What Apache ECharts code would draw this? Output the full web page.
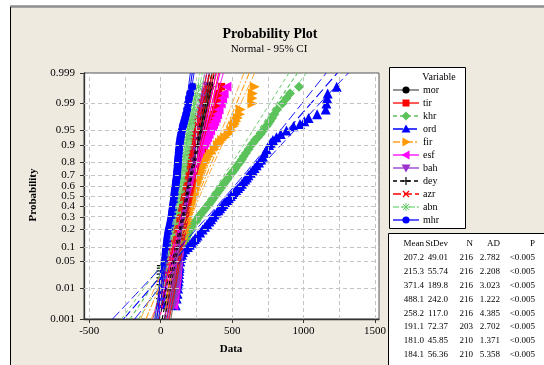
<!DOCTYPE html>
<html><head><meta charset="utf-8">
<script src="https://cdn.jsdelivr.net/npm/echarts@6/dist/echarts.min.js"></script>
<style>html,body{margin:0;padding:0;background:#fff}#c{width:544px;height:365px}</style>
</head><body><div id="c"></div>
<script>
// ---------------- DATA ----------------
const seriesNames = ['mor','tir','khr','ord','fir','esf','bah','dey','azr','abn','mhr'];
// plotting probabilities of the read points (shared by all series)
const probLevels = [0.003,0.005,0.007,0.01,0.013,0.016,0.02,0.025,0.03,0.035,0.04,0.05,0.06,0.07,0.08,0.09,0.1,0.11,0.12,0.13,0.14,0.15,0.16,0.18,0.2,0.22,0.24,0.26,0.28,0.3,0.32,0.34,0.36,0.38,0.4,0.42,0.44,0.46,0.48,0.5,0.52,0.54,0.56,0.58,0.6,0.62,0.64,0.66,0.68,0.7,0.72,0.74,0.76,0.78,0.8,0.82,0.84,0.86,0.88,0.9,0.91,0.92,0.93,0.94,0.95,0.96,0.965,0.97,0.975,0.98,0.985,0.99,0.993,0.995,0.997];
// data values read at those probabilities
const mor = [78,85,90,96,100, 103,108,112,116,119, 122,126,130,133,136, 139,142,145,148,150, 153,155,157,160,164, 167,169,172,175,177, 179,182,184,187,189, 191,193,196,198,200, 202,204,207,210,212, 214,217,220,222,225, 228,231,234,238,242, 246,250,255,260,264, 267,270,273,277,281, 285,287,290,294,300, 308,318,323,330,345];
const tir = [75,82,88,92,96, 99,103,107,110,113, 115,120,124,127,130, 133,136,139,141,144, 146,148,150,154,157, 160,162,165,168,170, 172,176,178,181,184, 187,189,192,194,197, 199,202,205,208,212, 215,218,223,226,230, 236,240,245,252,258, 266,275,284,294,305, 311,318,326,335,340, 348,354,360,367,375, 385,395,400,405,425];
const khr = [80,87,92,98,102, 106,110,114,117,120, 122,128,133,137,140, 144,148,154,160,168, 175,180,185,195,205, 215,228,242,255,266, 278,290,302,314,328, 339,350,360,370,380, 390,400,410,421,432, 442,452,465,475,486, 500,512,525,538,553, 568,580,597,615,635, 648,660,680,700,718, 740,752,765,780,795, 815,852,880,905,968];
const ord = [105,112,118,122,124, 125,128,129,130,132, 133,137,142,148,155, 172,190,203,215,226, 238,248,258,276,293, 310,325,340,352,364, 376,392,404,416,428, 439,450,465,477,490, 502,515,528,542,555, 568,580,592,603,614, 630,643,657,672,688, 703,715,728,742,758, 770,785,810,840,880, 930,975,1005,1035,1095, 1155,1160,1165,1169,1232];
const fir = [65,71,76,85,89, 92,98,102,105,108, 110,115,120,125,130, 135,140,145,150,154, 158,161,165,170,175, 180,183,186,190,193, 196,200,203,207,210, 214,218,222,226,230, 234,238,242,246,250, 254,259,265,269,274, 280,286,292,300,310, 320,335,355,378,400, 415,430,452,475,495, 512,520,530,540,555, 560,642,642,645,658];
const esf = [88,94,97,102,104, 106,110,112,113,115, 116,118,120,122,123, 125,126,128,129,131, 132,134,135,138,141, 143,145,148,151,153, 155,158,160,162,164, 166,168,170,172,174, 176,178,181,185,188, 192,196,200,204,208, 214,219,224,230,236, 244,252,261,273,295, 305,315,325,335,346, 358,366,375,385,395, 405,420,430,440,460];
const bah = [90,97,101,107,110, 112,116,118,120,122, 123,126,128,130,131, 133,134,135,136,137, 138,139,140,142,144, 146,148,150,152,153, 155,158,159,161,163, 165,166,169,170,172, 174,175,177,179,181, 182,184,187,189,190, 194,196,199,202,205, 209,212,216,220,226, 229,232,236,240,245, 252,255,258,264,270, 278,290,300,310,330];
const dey = [0,0,0,1,2, 2,2,3,3,4, 5,40,100,106,110, 113,116,119,121,124, 126,128,130,133,136, 140,142,145,148,150, 153,156,158,161,163, 165,168,170,172,174, 176,178,180,183,186, 188,190,194,196,199, 202,205,208,212,216, 220,225,229,234,240, 244,248,253,257,263, 269,273,278,284,290, 298,310,320,330,345];
const azr = [2,3,4,5,8, 10,30,42,50,57, 62,70,76,80,84, 87,90,93,95,97, 99,101,103,106,110, 112,115,118,120,123, 125,128,130,133,135, 138,140,142,144,146, 148,150,153,155,158, 160,163,166,168,171, 175,178,181,186,194, 200,205,210,217,225, 229,232,236,240,245, 252,255,258,264,270, 278,288,296,305,322];
const abn = [4,7,10,12,14, 15,18,20,22,24, 26,30,34,37,40, 44,48,52,55,60, 65,70,75,84,89, 92,95,97,100,103, 106,110,112,115,118, 121,123,126,128,131, 133,136,139,141,144, 146,149,152,154,156, 158,160,163,166,168, 171,175,178,183,187, 190,192,195,198,202, 207,211,215,220,225, 230,238,244,250,265];
const mhr = [4,7,9,12,14, 15,18,20,22,24, 26,29,32,34,36, 38,40,42,44,46, 47,49,50,53,57, 62,66,70,73,76, 78,80,82,85,86, 88,90,92,94,95, 97,98,100,102,104, 106,107,110,112,113, 115,116,118,119,120, 122,124,126,128,131, 133,136,139,143,148, 155,160,165,171,178, 185,192,198,206,222];
// summary table
const statMean = [207.2,215.3,371.4,488.1,258.2,191.1,181.0,184.1,154.6,128.5,96.3];
const statStDev = [49.01,55.74,189.8,242.0,117.0,72.37,45.85,56.36,60.59,52.60,40.20];
const statN = [216,216,216,216,216,203,210,210,210,210,210];
const statAD = [2.782,2.208,3.023,1.222,4.385,2.702,1.371,5.358,4.370,3.410,2.950];
const statP = ['<0.005','<0.005','<0.005','<0.005','<0.005','<0.005','<0.005','<0.005','<0.005','<0.005','<0.005'];
// axes
const xLabelValues = [-500,0,500,1000,1500];
const xGridValues = [-500,-250,0,250,500,750,1000,1250,1500];
const yTickLabels = ['0.001','0.01','0.05','0.1','0.2','0.3','0.4','0.5','0.6','0.7','0.8','0.9','0.95','0.99','0.999'];

// ---------------- STYLES ----------------
const PLUS = 'path://M4.3,0H5.7V4.3H10V5.7H5.7V10H4.3V5.7H0V4.3H4.3Z';
const AST = 'path://M0,4.4H10V5.6H0Z M4.4,0H5.6V10H4.4Z M1,0.2L9.8,9L9,9.8L0.2,1Z M9,0.2L9.8,1L1,9.8L0.2,9Z';
const styles = [
  {color:'#000000', line:'#5a5a5a', dash:'solid',   symbol:'circle',   size:8,  rot:0,   mk:'circle'},
  {color:'#FF0000', line:'#FF0000', dash:'solid',   symbol:'rect',     size:7.5,rot:0,   mk:'rect'},
  {color:'#5CC25C', line:'#5CC25C', dash:[4,3],     symbol:'diamond',  size:10, rot:0,   mk:'diamond'},
  {color:'#0000FF', line:'#0000FF', dash:[10,4],    symbol:'triangle', size:10, rot:0,   mk:'up'},
  {color:'#FF9900', line:'#FFA020', dash:[7,2,2,2], symbol:'triangle', size:10, rot:-90, mk:'right'},
  {color:'#FF00FF', line:'#FF00FF', dash:'solid',   symbol:'triangle', size:10, rot:90,  mk:'left'},
  {color:'#9933CC', line:'#9933CC', dash:'solid',   symbol:'triangle', size:10, rot:180, mk:'down'},
  {color:'#000000', line:'#000000', dash:[4,3],     symbol:PLUS,       size:9,  rot:0,   mk:'plus'},
  {color:'#FF0000', line:'#FF0000', dash:[8,3],     symbol:PLUS,       size:9,  rot:45,  mk:'x'},
  {color:'#66CC66', line:'#88DD88', dash:[6,2,2,2,2,2], symbol:AST,    size:9,  rot:0,   mk:'ast'},
  {color:'#0000FF', line:'#0000FF', dash:'solid',   symbol:'circle',   size:8,  rot:0,   mk:'circle'}
];
const FONT = '"Liberation Serif","Times New Roman",serif';

// ---------------- HELPERS ----------------
function normInv(p){
  const a=[-3.969683028665376e+01,2.209460984245205e+02,-2.759285104469687e+02,1.383577518672690e+02,-3.066479806614716e+01,2.506628277459239e+00];
  const b=[-5.447609879822406e+01,1.615858368580409e+02,-1.556989798598866e+02,6.680131188771972e+01,-1.328068155288572e+01];
  const c=[-7.784894002430293e-03,-3.223964580411365e-01,-2.400758277161838e+00,-2.549732539343734e+00,4.374664141464968e+00,2.938163982698783e+00];
  const d=[7.784695709041462e-03,3.224671290700398e-01,2.445134137142996e+00,3.754408661907416e+00];
  const pl=0.02425, ph=1-pl; let q,r;
  if(p<pl){q=Math.sqrt(-2*Math.log(p));return (((((c[0]*q+c[1])*q+c[2])*q+c[3])*q+c[4])*q+c[5])/((((d[0]*q+d[1])*q+d[2])*q+d[3])*q+1);}
  if(p<=ph){q=p-0.5;r=q*q;return (((((a[0]*r+a[1])*r+a[2])*r+a[3])*r+a[4])*r+a[5])*q/(((((b[0]*r+b[1])*r+b[2])*r+b[3])*r+b[4])*r+1);}
  q=Math.sqrt(-2*Math.log(1-p));return -(((((c[0]*q+c[1])*q+c[2])*q+c[3])*q+c[4])*q+c[5])/((((d[0]*q+d[1])*q+d[2])*q+d[3])*q+1);
}
const zMin = normInv(0.001), zMax = -zMin;
const zTicks = yTickLabels.map(s => normInv(parseFloat(s)));
const zLevels = probLevels.map(normInv);
const seriesValues = [mor,tir,khr,ord,fir,esf,bah,dey,azr,abn,mhr];

// ---------------- SERIES ----------------
const series = [];
series.push({
  type:'line', data:[], silent:true, z:1,
  markLine:{silent:true, symbol:['none','none'], animation:false, label:{show:false},
    lineStyle:{color:'#C4C4C4', width:1, type:[4,3]},
    data: xGridValues.map(v=>({xAxis:v})).concat(zTicks.slice(1,-1).map(z=>({yAxis:z})))}
});
seriesNames.forEach((n,i)=>{
  const st = styles[i];
  series.push({type:'scatter', name:n, silent:true, z:2,
    data: seriesValues[i].map((v,k)=>[v, zLevels[k]]),
    symbol: st.symbol, symbolSize: st.size, symbolRotate: st.rot,
    itemStyle:{color: st.color, opacity:1}});
});
seriesNames.forEach((n,i)=>{
  const st = styles[i];
  const m = statMean[i], s = statStDev[i], N = statN[i];
  const fit = [[m+s*zMin, zMin],[m+s*zMax, zMax]];
  const lo = [], hi = [];
  const K = 30;
  for(let k=0;k<=K;k++){
    const z = zMin + (zMax-zMin)*k/K;
    const h = 1.959964*s*Math.sqrt((1+z*z/2)/N);
    lo.push([m+s*z-h, z]); hi.push([m+s*z+h, z]);
  }
  [fit,lo,hi].forEach((d,j)=>series.push({type:'line', data:d, symbol:'none', silent:true, z:3,
    lineStyle:{color:st.line, width: j?0.9:1.1, type:st.dash}}));
});

// ---------------- GRAPHIC (frame, titles, legend, table) ----------------
const g = [];
g.push({type:'rect', z:-10, silent:true, shape:{x:10, y:7, width:560, height:380}, style:{fill:'#EEEAE0'}});
g.push({type:'line', z:-9, silent:true, shape:{x1:10, y1:6.5, x2:544, y2:6.5}, style:{stroke:'#8E8E8E', lineWidth:2.5}});
g.push({type:'line', z:-9, silent:true, shape:{x1:10.5, y1:7, x2:10.5, y2:365}, style:{stroke:'#000', lineWidth:1}});
g.push({type:'text', x:270, y:34, style:{text:'Probability Plot', font:'bold 14px '+FONT, fill:'#000', textAlign:'center', textVerticalAlign:'middle'}});
g.push({type:'text', x:269, y:49, style:{text:'Normal - 95% CI', font:'11px '+FONT, fill:'#000', textAlign:'center', textVerticalAlign:'middle'}});
g.push({type:'text', x:33, y:195, rotation:Math.PI/2, style:{text:'Probability', font:'bold 11px '+FONT, fill:'#000', textAlign:'center', textVerticalAlign:'middle'}});
g.push({type:'text', x:231, y:349, style:{text:'Data', font:'bold 11px '+FONT, fill:'#000', textAlign:'center', textVerticalAlign:'middle'}});
// legend box
g.push({type:'rect', z:10, silent:true, shape:{x:389.5, y:67.5, width:76, height:161}, style:{fill:'#fff', stroke:'#000', lineWidth:1}});
g.push({type:'text', z:11, x:439, y:77, style:{text:'Variable', font:'10px '+FONT, fill:'#000', textAlign:'center', textVerticalAlign:'middle'}});
function marker(kind, cx, cy, col){
  const r = 4;
  switch(kind){
    case 'circle': return [{type:'circle', shape:{cx, cy, r:3.6}, style:{fill:col}}];
    case 'rect': return [{type:'rect', shape:{x:cx-3.5, y:cy-3.5, width:7, height:7}, style:{fill:col}}];
    case 'diamond': return [{type:'polygon', shape:{points:[[cx,cy-r-0.5],[cx+r+0.5,cy],[cx,cy+r+0.5],[cx-r-0.5,cy]]}, style:{fill:col}}];
    case 'up': return [{type:'polygon', shape:{points:[[cx,cy-r-0.5],[cx+r+0.5,cy+3.5],[cx-r-0.5,cy+3.5]]}, style:{fill:col}}];
    case 'down': return [{type:'polygon', shape:{points:[[cx,cy+r+0.5],[cx+r+0.5,cy-3.5],[cx-r-0.5,cy-3.5]]}, style:{fill:col}}];
    case 'right': return [{type:'polygon', shape:{points:[[cx+r+0.5,cy],[cx-3.5,cy-r-0.5],[cx-3.5,cy+r+0.5]]}, style:{fill:col}}];
    case 'left': return [{type:'polygon', shape:{points:[[cx-r-0.5,cy],[cx+3.5,cy-r-0.5],[cx+3.5,cy+r+0.5]]}, style:{fill:col}}];
    case 'plus': return [
      {type:'line', shape:{x1:cx-r, y1:cy, x2:cx+r, y2:cy}, style:{stroke:col, lineWidth:1.2}},
      {type:'line', shape:{x1:cx, y1:cy-r, x2:cx, y2:cy+r}, style:{stroke:col, lineWidth:1.2}}];
    case 'x': return [
      {type:'line', shape:{x1:cx-3, y1:cy-3, x2:cx+3, y2:cy+3}, style:{stroke:col, lineWidth:1.2}},
      {type:'line', shape:{x1:cx-3, y1:cy+3, x2:cx+3, y2:cy-3}, style:{stroke:col, lineWidth:1.2}}];
    case 'ast': return [
      {type:'line', shape:{x1:cx-r, y1:cy, x2:cx+r, y2:cy}, style:{stroke:col, lineWidth:1}},
      {type:'line', shape:{x1:cx, y1:cy-r, x2:cx, y2:cy+r}, style:{stroke:col, lineWidth:1}},
      {type:'line', shape:{x1:cx-3, y1:cy-3, x2:cx+3, y2:cy+3}, style:{stroke:col, lineWidth:1}},
      {type:'line', shape:{x1:cx-3, y1:cy+3, x2:cx+3, y2:cy-3}, style:{stroke:col, lineWidth:1}}];
  }
  return [];
}
seriesNames.forEach((n,i)=>{
  const st = styles[i];
  const y = 90 + i*13;
  g.push({type:'line', z:11, silent:true, shape:{x1:393, y1:y, x2:419, y2:y},
    style:{stroke:st.line, lineWidth:1.3, lineDash: st.dash==='solid'?null:st.dash}});
  marker(st.mk, 406, y, st.color).forEach(e=>{e.z=12; e.silent=true; g.push(e);});
  g.push({type:'text', z:12, x:423, y:y, style:{text:n, font:'10px '+FONT, fill:'#000', textAlign:'left', textVerticalAlign:'middle'}});
});
// stats table
g.push({type:'rect', z:10, silent:true, shape:{x:388.5, y:233.5, width:200, height:200}, style:{fill:'#fff', stroke:'#000', lineWidth:1}});
const colRight = [424,448,473,500,535];
const header = ['Mean','StDev','N','AD','P'];
header.forEach((h,j)=>g.push({type:'text', z:11, x:colRight[j], y:244, style:{text:h, font:'9px '+FONT, fill:'#000', textAlign:'right', textVerticalAlign:'middle'}}));
seriesNames.forEach((n,i)=>{
  const y = 258 + i*13.8;
  const cells = [statMean[i].toFixed(1), statStDev[i].toPrecision(4), String(statN[i]), statAD[i].toFixed(3), statP[i]];
  cells.forEach((t,j)=>g.push({type:'text', z:11, x:colRight[j], y:y, style:{text:t, font:'9px '+FONT, fill:'#000', textAlign:'right', textVerticalAlign:'middle'}}));
});

// ---------------- CHART ----------------
const chart = echarts.init(document.getElementById('c'), null, {renderer:'canvas', width:544, height:365});
chart.setOption({
  animation:false,
  backgroundColor:'#ffffff',
  grid:{left:84, top:73, width:295, height:246, show:true, backgroundColor:'#ffffff', borderColor:'#555', borderWidth:1, containLabel:false},
  xAxis:{type:'value', min:-537, max:1528,
    axisLine:{show:true, onZero:false, lineStyle:{color:'#333', width:1.3}},
    axisTick:{show:true, customValues:xLabelValues, length:4, lineStyle:{color:'#333'}},
    axisLabel:{customValues:xLabelValues, color:'#000', fontFamily:FONT, fontSize:11, margin:7,
      formatter:function(v){ return String(Math.round(v)); }},
    splitLine:{show:false}},
  yAxis:{type:'value', min:zMin, max:zMax,
    axisLine:{show:true, onZero:false, lineStyle:{color:'#333', width:1.3}},
    axisTick:{show:true, customValues:zTicks, length:4, lineStyle:{color:'#333'}},
    axisLabel:{customValues:zTicks, color:'#000', fontFamily:FONT, fontSize:11, margin:9,
      formatter:function(v){ let best=0, bd=1e9; zTicks.forEach((z,i)=>{const dd=Math.abs(z-v); if(dd<bd){bd=dd;best=i;}}); return yTickLabels[best]; }},
    splitLine:{show:false}},
  series: series,
  graphic: g
});
</script></body></html>
